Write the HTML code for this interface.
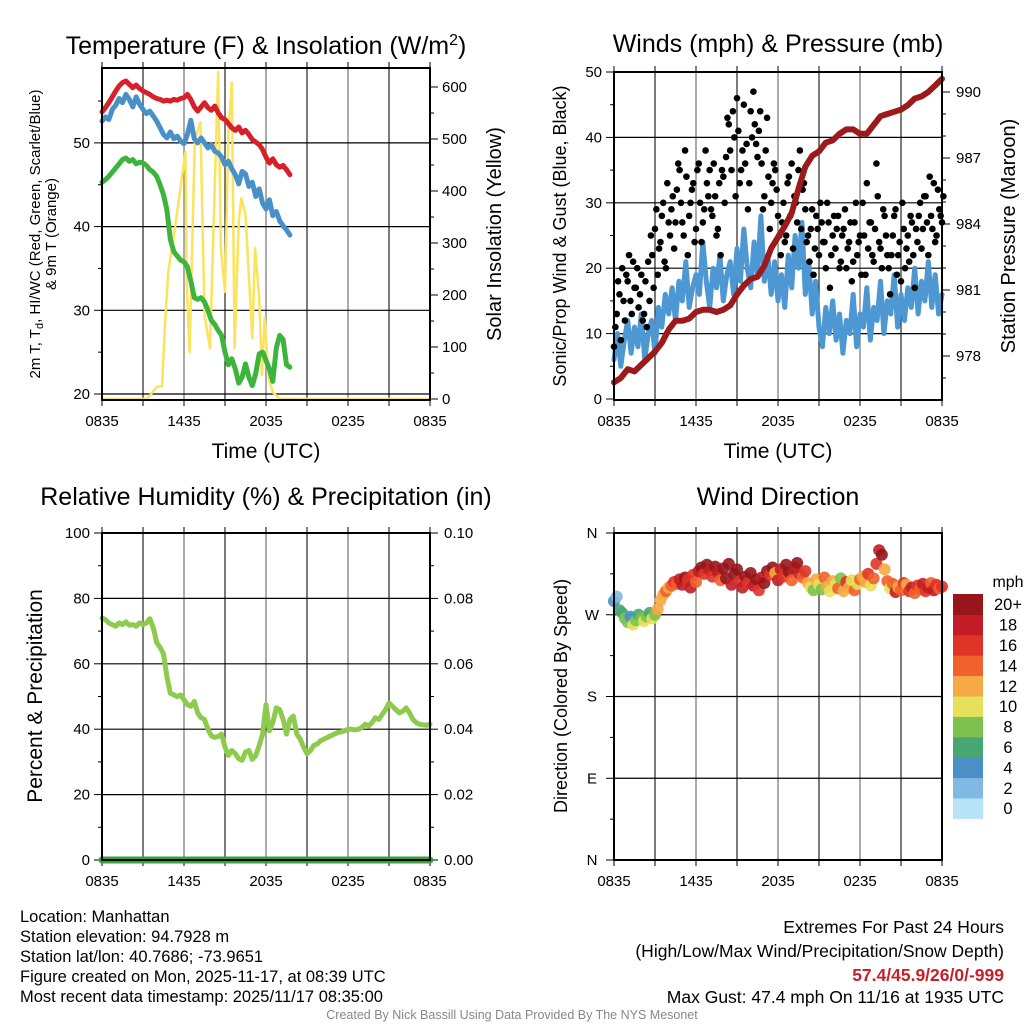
<!DOCTYPE html>
<html><head><meta charset="utf-8"><style>
html,body{margin:0;padding:0;background:#fff;}
svg{display:block;font-family:"Liberation Sans",sans-serif;}
</style></head><body>
<svg id="c" width="1024" height="1024" viewBox="0 0 1024 1024"></svg>
<script>
// ---------- data ----------
const xTickLabels = ["0835","1435","2035","0235","0835"];
const tempRed = [53.7,54.2,54.8,55.5,56.2,56.8,57.2,57.4,57.0,56.6,56.9,56.5,56.2,56.0,55.8,55.5,55.3,55.2,55.0,55.1,55.0,55.2,55.1,55.3,55.4,55.8,55.2,54.3,53.8,54.3,54.8,54.2,53.9,54.4,53.6,53.0,52.8,52.3,51.8,51.5,51.9,51.2,51.5,51.0,50.4,50.1,49.8,49.2,48.3,47.6,48.1,47.4,47.1,47.3,46.8,46.2];
const tempBlue = [52.6,53.1,52.8,54.0,54.5,55.3,54.8,55.8,55.2,54.3,55.5,54.6,54.0,53.5,53.8,53.2,52.6,51.8,51.0,50.6,51.3,50.5,50.8,50.2,49.9,51.0,52.7,50.5,50.0,50.6,50.0,49.4,49.8,49.0,48.8,48.3,47.4,47.8,46.9,46.2,45.1,46.6,46.3,44.8,45.3,43.6,44.5,42.8,42.1,43.2,41.3,41.8,40.7,40.1,39.6,39.0];
const tempGreen = [45.3,45.6,46.0,46.5,47.0,47.5,48.0,48.2,47.8,48.0,47.5,47.7,47.6,47.3,46.8,46.5,46.0,45.0,43.8,42.0,38.5,37.0,36.5,36.0,35.8,35.2,33.5,31.5,31.3,31.5,31.0,30.0,28.8,28.3,27.6,27.0,25.0,23.5,24.2,23.0,21.3,22.0,23.6,22.0,21.0,22.5,24.8,25.0,24.0,23.0,21.5,25.5,27.0,26.5,23.5,23.2];
const insT = [0,3.3,4.0,4.4,4.6,4.85,5.3,5.8,6.1,6.2,6.4,6.8,7.2,7.5,7.9,8.3,8.5,8.7,9.0,9.25,9.5,9.7,10.0,10.2,10.5,11.0,11.2,11.5,11.7,11.9,12.2,12.5,13.0,24];
const insV = [0,0,23,25,142,244,321,417,475,225,90,500,532,161,98,450,629,290,206,513,608,98,340,386,354,117,290,194,46,156,40,13,0,0];
const windSpeed = [6,10,5,9,12,7,11,8,13,6,10,12,7,
14,11,16,13,17,12,18,15,21,14,17,19,
16,24,18,14,20,17,22,15,19,21,16,23,
18,26,20,17,24,19,28,18,22,16,21,15,
19,14,22,17,25,20,27,16,21,13,18,11,
8,14,10,15,9,13,7,12,10,16,8,13,
11,17,9,14,12,18,10,15,13,19,11,16,
12,17,14,20,13,18,15,21,14,19,13,16];
const windGust = [8,13,16,20,12,18,15,21,17,14,19,
13,11,15,22,26,19,24,30,20,27,
29,23,32,35,27,38,22,30,33,26,
36,24,29,33,35,28,31,26,22,34,
37,42,35,40,46,33,38,36,29,44,
47,39,41,36,31,43,26,33,35,28,
22,30,25,34,36,31,27,38,32,29,
25,26,19,28,22,27,24,30,17,25,
23,28,21,26,20,24,18,27,22,25,
30,19,23,27,21,36,24,20,28,22,
16,25,29,22,18,26,23,21,27,17,
24,30,26,31,22,28,33,25,29,27];
const windGust2 = [11,18,9,15,19,22,13,17,20,16,12,
18,21,25,17,29,23,28,21,33,25,
31,27,36,30,25,34,28,32,24,35,
30,27,38,31,29,36,25,33,35,30,
43,38,44,31,41,35,45,39,33,40,
42,37,44,29,38,34,30,36,32,25,
27,24,33,28,23,30,35,26,33,24,
21,29,23,26,30,24,20,27,22,28,
26,20,25,29,23,27,21,30,24,19,
25,33,27,22,26,31,23,29,25,20,
22,28,19,24,30,20,25,28,22,26,
28,23,31,27,34,26,24,32,28,31];
const pressure = [976.8,977.0,977.4,977.3,977.6,977.9,978.2,978.6,979.2,979.6,979.6,979.7,980.0,980.1,980.1,980.0,980.1,980.3,980.8,981.2,981.5,981.6,982.1,982.9,983.4,983.9,984.5,985.6,986.6,987.1,987.3,987.7,987.8,988.1,988.3,988.3,988.1,988.1,988.5,988.9,989.0,989.1,989.2,989.4,989.7,989.8,990.0,990.3,990.6];
const rh = [74,73.5,72.5,72,71.5,72.5,72,72.8,71.8,72,71.5,72.5,72,
72.5,73.8,71,66.5,65,63,56,51,50.5,50,50.5,49,
47.5,47,48.5,45,43.5,43,40,38,37.5,37.8,38.5,34.5,
32,33.5,32.5,31,30.5,33,33.5,30.8,32,35,38.5,47.5,
39.5,42,46.5,46,43,38.5,43,44,38.5,37,34.5,32.5,
33.5,35,35.5,36.5,37,37.5,38,38.5,39,39.2,39.5,40,
40,39.8,40,40.5,41.5,41,42,43.5,43,44.5,46,48,
47,46,45,45.5,46.5,45,43,42,41.5,41.3,41.2,41.5];
const precip = [0,0,0,0,0,0,0,0,0,0,0,0,0,0,0,0,0,0,0,0,0,0,0,0,0];
const windDir = [285,290,275,272,266,262,268,259,264,270,266,
263,268,272,266,270,276,286,292,296,300,
302,306,304,309,303,311,308,300,314,306,
318,322,315,325,319,312,323,317,308,321,
310,326,303,315,320,307,300,312,305,316,
302,309,297,311,305,318,314,322,316,308,
320,312,325,317,308,322,327,315,311,318,
305,300,297,309,303,298,311,301,296,307,
303,299,310,296,306,300,308,297,304,309,
312,306,315,302,310,326,341,336,320,307,
299,304,295,300,297,305,303,296,300,294,
302,298,304,296,300,305,297,303,299,301];
const dirSpeed = [4,3,6,7,8,9,5,10,8,7,9,
10,8,7,11,9,12,12,13,14,13,
15,17,14,19,18,20,16,18,17,15,
19,20,17,21,18,16,20,19,14,21,
20,22,18,20,21,17,19,20,16,21,
18,20,16,19,21,22,17,20,13,18,
19,17,21,20,14,19,20,18,15,17,
12,10,9,13,11,8,14,12,10,13,
11,14,9,13,16,12,10,15,11,14,
13,12,16,10,14,17,19,20,12,15,
11,14,18,12,15,17,13,16,19,14,
17,15,18,16,19,14,18,17,15,16];
const cbLabels = ["0","2","4","6","8","10","12","14","16","18","20+"];
const cbColors = ["#b8e2f6","#7fb9e4","#4a8fc6","#48a672","#7dc24e","#e6e05a","#f6a944","#f0622c","#e03428","#c21d25","#96161b"];

// ---------- helpers ----------
const NS="http://www.w3.org/2000/svg";
const svg=document.getElementById('c');
function mk(tag,attrs,parent){const e=document.createElementNS(NS,tag);for(const k in attrs)e.setAttribute(k,attrs[k]);(parent||svg).appendChild(e);return e;}
function txt(s,x,y,size,anchor,parent,extra){const e=mk('text',Object.assign({x:x,y:y,'font-size':size,'text-anchor':anchor||'middle',fill:'#000'},extra||{}),parent);e.textContent=s;return e;}
function colorFor(s){let i=Math.min(10,Math.max(0,Math.floor(s/2)));return cbColors[i];}
const TK=15;

function panel(name,L,R,T,B){
  const g=mk('g',{});
  
  
  const X=t=>L+(t/24)*(R-L);
  for(let h=3;h<24;h+=3){const ln=mk('line',{x1:X(h),x2:X(h),y1:T,y2:B,stroke:'#000','stroke-width':1.2,'stroke-opacity':h%6===0?0.55:0.85},g);
    }
  for(let h=0;h<=24;h+=3){mk('line',{x1:X(h),x2:X(h),y1:B,y2:B+6,stroke:'#000','stroke-width':1},g);mk('line',{x1:X(h),x2:X(h),y1:T-6,y2:T,stroke:'#000','stroke-width':1},g);}
  xTickLabels.forEach((s,i)=>{const e=txt(s,X(i*6),B+26,TK,'middle',g);});
  return {g,X};
}
function frame(g,L,R,T,B){const f=mk('rect',{x:L,y:T,width:R-L,height:B-T,fill:'none',stroke:'#000','stroke-width':2},g);}
function hgrid(g,L,R,y){const l=mk('line',{x1:L,x2:R,y1:y,y2:y,stroke:'#000','stroke-width':1.2},g);}
function linePath(g,pts,color,w,name){const p=mk('polyline',{points:pts.map(p=>p[0].toFixed(1)+','+p[1].toFixed(1)).join(' '),fill:'none',stroke:color,'stroke-width':w,'stroke-linejoin':'round','stroke-linecap':'round'},g);return p;}

// ===== Panel 1: Temperature =====
(function(){
  const L=102,R=430,T=68,B=400;
  const {g,X}=panel('temperature-panel',L,R,T,B);
  const Y=v=>394-(v-20)*8.37, RY=v=>399-v*0.52;
  [20,30,40,50].forEach(v=>hgrid(g,L,R,Y(v)));
  for(let v=20;v<=55;v+=5){mk('line',{x1:L-(v%10?4:8),x2:L,y1:Y(v),y2:Y(v),stroke:'#000'},g);if(v%10===0){const e=txt(String(v),L-12,Y(v)+5,TK,'end',g);}}
  for(let v=0;v<=600;v+=50){mk('line',{x1:R,x2:R+(v%100?4:8),y1:RY(v),y2:RY(v),stroke:'#000'},g);if(v%100===0){const e=txt(String(v),R+12,RY(v)+5,TK,'start',g);}}
  linePath(g,insT.map((t,i)=>[X(t),RY(insV[i])]),'#fbe35c',2.5,'insolation-line');
  linePath(g,tempGreen.map((v,i)=>[X(i*0.25),Y(v)]),'#3db53d',5,'dewpoint-line');
  linePath(g,tempBlue.map((v,i)=>[X(i*0.25),Y(v)]),'#4a90c8',5,'windchill-line');
  linePath(g,tempRed.map((v,i)=>[X(i*0.25),Y(v)]),'#d8202a',5,'temperature-line');
  frame(g,L,R,T,B);
  const t1=mk('text',{x:266,y:54,'font-size':25,'text-anchor':'middle'},g);t1.innerHTML='Temperature (F) &amp; Insolation (W/m<tspan dy="-9" font-size="16">2</tspan><tspan dy="9">)</tspan>';
  
  const xt=txt('Time (UTC)',266,458,21,'middle',g);
  const yl=mk('text',{transform:'translate(40,234) rotate(-90)','font-size':15,'text-anchor':'middle'},g);
  yl.innerHTML='<tspan x="0" y="0">2m T, T<tspan font-size="11" dy="3">d</tspan><tspan dy="-3">, HI/WC (Red, Green, Scarlet/Blue)</tspan></tspan><tspan x="0" y="16">&amp; 9m T (Orange)</tspan>';
  
  const yr=txt('Solar Insolation (Yellow)',0,0,20,'middle',g,{transform:'translate(501,234) rotate(-90)'});
})();

// ===== Panel 2: Winds =====
(function(){
  const L=614,R=942,T=72,B=400;
  const {g,X}=panel('winds-panel',L,R,T,B);
  const Y=v=>399-v*6.54, RY=v=>356-(v-978)*22;
  [10,20,30,40].forEach(v=>hgrid(g,L,R,Y(v)));
  for(let v=0;v<=50;v+=5){mk('line',{x1:L-(v%10?4:8),x2:L,y1:Y(v),y2:Y(v),stroke:'#000'},g);if(v%10===0){const e=txt(String(v),L-12,Y(v)+5,TK,'end',g);}}
  for(let v=977;v<=990;v+=1){mk('line',{x1:R,x2:R+((v-978)%3?4:8),y1:RY(v),y2:RY(v),stroke:'#000'},g);if((v-978)%3===0){const e=txt(String(v),R+14,RY(v)+5,TK,'start',g);}}
  linePath(g,windSpeed.map((v,i)=>[X(i*0.25),Y(v)]),'#4d97d2',5,'wind-speed-line');
  windGust.forEach((v,i)=>{const c=mk('circle',{cx:X(i*0.2),cy:Y(v),r:3.3,fill:'#000'},g);
    });
  windGust2.forEach((v,i)=>{const c=mk('circle',{cx:X(i*0.2+0.1),cy:Y(v),r:3.3,fill:'#000'},g);
    });
  linePath(g,pressure.map((v,i)=>[X(i*0.5),RY(v)]),'#9c1a1c',6,'pressure-line');
  frame(g,L,R,T,B);
  const t1=txt('Winds (mph) & Pressure (mb)',778,52,25,'middle',g);
  const xt=txt('Time (UTC)',778,458,21,'middle',g);
  const yl=txt('Sonic/Prop Wind & Gust (Blue, Black)',0,0,18,'middle',g,{transform:'translate(566,236) rotate(-90)'});
  const yr=txt('Station Pressure (Maroon)',0,0,20,'middle',g,{transform:'translate(1015,236) rotate(-90)'});
})();

// ===== Panel 3: RH =====
(function(){
  const L=102,R=430,T=533,B=860;
  const {g,X}=panel('humidity-panel',L,R,T,B);
  const Y=v=>860-v*3.27, RY=v=>860-v*3270;
  [20,40,60,80].forEach(v=>hgrid(g,L,R,Y(v)));
  for(let v=0;v<=100;v+=10){mk('line',{x1:L-(v%20?4:8),x2:L,y1:Y(v),y2:Y(v),stroke:'#000'},g);if(v%20===0){const e=txt(String(v),L-12,Y(v)+5,TK,'end',g);}}
  for(let k=0;k<=10;k++){const v=k/100;mk('line',{x1:R,x2:R+(k%2?4:8),y1:RY(v),y2:RY(v),stroke:'#000'},g);if(k%2===0){const e=txt(v.toFixed(2),R+14,RY(v)+5,TK,'start',g);}}
  linePath(g,rh.map((v,i)=>[X(i*0.25),Y(v)]),'#8ccb4c',5,'humidity-line');
  linePath(g,precip.map((v,i)=>[X(i),RY(v)]),'#3aa03a',7,'precipitation-line');
  frame(g,L,R,T,B);
  const t1=txt('Relative Humidity (%) & Precipitation (in)',266,505,25,'middle',g);
  const yl=txt('Percent & Precipitation',0,0,21,'middle',g,{transform:'translate(42,696) rotate(-90)'});
})();

// ===== Panel 4: Wind direction =====
(function(){
  const L=614,R=942,T=533,B=860;
  const {g,X}=panel('wind-direction-panel',L,R,T,B);
  const Y=d=>860-d*(327/360);
  const dl=['N','E','S','W','N'];
  [90,180,270].forEach(v=>hgrid(g,L,R,Y(v)));
  for(let k=0;k<=8;k++){const v=k*45;mk('line',{x1:L-(k%2?4:8),x2:L,y1:Y(v),y2:Y(v),stroke:'#000'},g);}
  dl.forEach((s,i)=>{const e=txt(s,L-22,Y(i*90)+5,TK,'middle',g);});
  windDir.forEach((d,i)=>{const c=mk('circle',{cx:X(i*0.2),cy:Y(d),r:6,fill:colorFor(dirSpeed[i]),'fill-opacity':0.9},g);
    });
  frame(g,L,R,T,B);
  const t1=txt('Wind Direction',778,505,25,'middle',g);
  const yl=txt('Direction (Colored By Speed)',0,0,18,'middle',g,{transform:'translate(567,696) rotate(-90)'});
  const cb=mk('g',{},svg);
  const top=594,h=20.4;
  cbColors.forEach((c,i)=>{const y=top+(10-i)*h;const r=mk('rect',{x:953,y:y,width:30,height:h+0.5,fill:c},cb);
    
    const e=txt(cbLabels[i],1008,y+h/2+6,16.5,'middle',cb);});
  const m=txt('mph',1008,587,16,'middle',cb);
})();

// ===== footer text =====
const infoLines=["Location: Manhattan","Station elevation: 94.7928 m","Station lat/lon: 40.7686; -73.9651","Figure created on Mon, 2025-11-17, at 08:39 UTC","Most recent data timestamp: 2025/11/17 08:35:00"];
infoLines.forEach((s,i)=>{const e=txt(s,20,922+i*20,16.5,'start');});
const FS=17.5;
const ex1=txt('Extremes For Past 24 Hours',1004,933,FS,'end');
const ex2=txt('(High/Low/Max Wind/Precipitation/Snow Depth)',1004,957,FS,'end');
const ex3=txt('57.4/45.9/26/0/-999',1004,981,FS,'end',null,{fill:'#c8202a','font-weight':'bold'});
const ex4=txt('Max Gust: 47.4 mph On 11/16 at 1935 UTC',1004,1003,FS,'end');
const cr=txt('Created By Nick Bassill Using Data Provided By The NYS Mesonet',512,1019,12.5,'middle',null,{fill:'#888'});
</script>
</body></html>
